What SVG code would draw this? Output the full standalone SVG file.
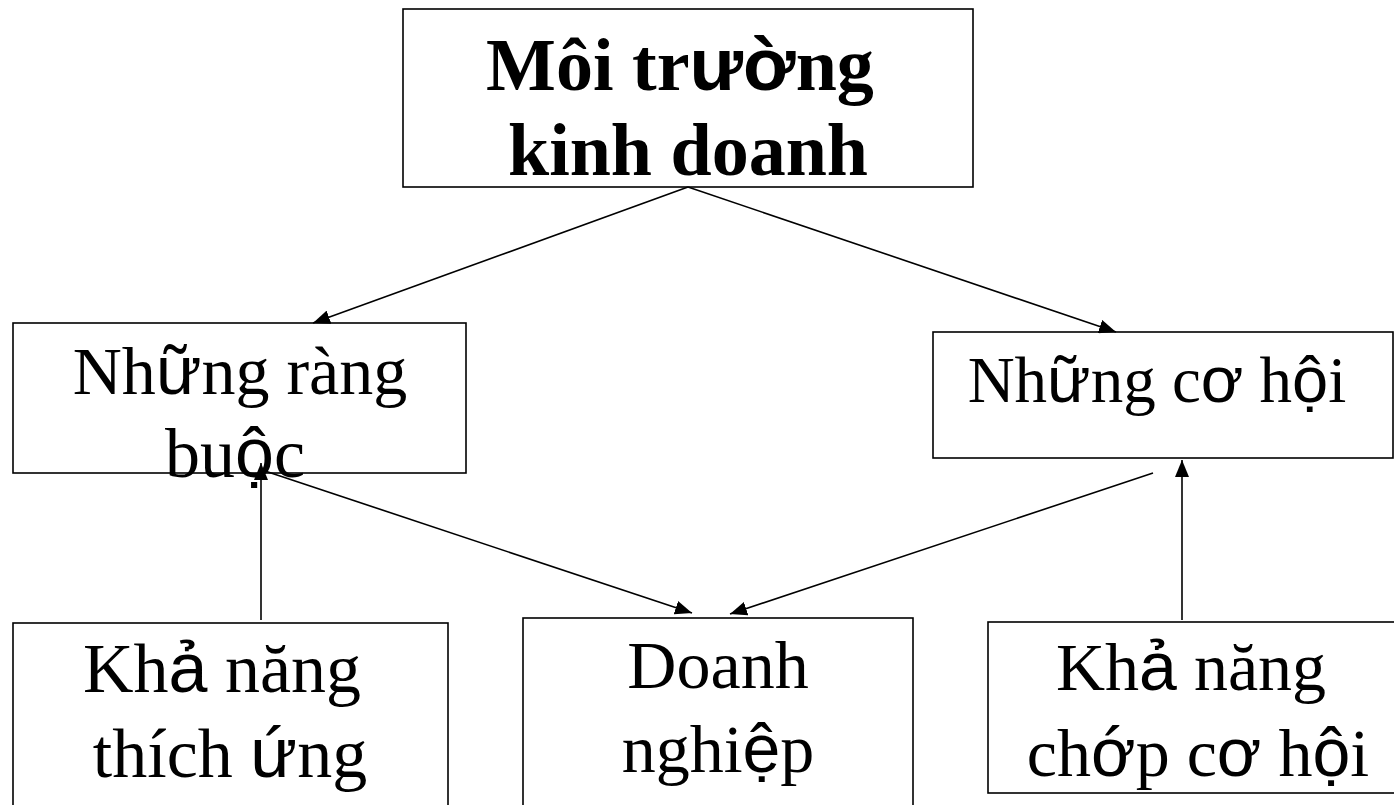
<svg xmlns="http://www.w3.org/2000/svg" width="1394" height="805" viewBox="0 0 1394 805">
<defs>
<marker id="ah" markerUnits="userSpaceOnUse" markerWidth="18" markerHeight="14" refX="17" refY="7" orient="auto">
<path d="M0,0 L17,7 L0,14 Z" fill="#000"/>
</marker>
<style>
.box{fill:#fff;stroke:#000;stroke-width:1.6}
.t{font-family:"Liberation Serif","Times New Roman",serif;font-size:68px;fill:#000;text-anchor:middle}
.b{font-weight:bold;font-size:74px}
.m{font-size:65px}
.s{font-family:"Liberation Sans",Arial,sans-serif}
.edge{stroke:#000;stroke-width:1.6;fill:none;marker-end:url(#ah)}
</style>
</defs>
<rect width="1394" height="805" fill="#fff"/>
<g id="n-top">
<rect class="box" x="403" y="9" width="570" height="178"/>
<text class="t b" x="680" y="90">Môi tr<tspan class="s">ườ</tspan>ng</text>
<text class="t b" x="688" y="175">kinh doanh</text>
</g>
<g id="n-constraints">
<rect class="box" x="13" y="323" width="453" height="150"/>
<text class="t" x="240" y="394">Nh<tspan class="s">ữ</tspan>ng ràng</text>
<text class="t" x="235" y="477" style="font-size:70px">bu<tspan class="s">ộ</tspan>c</text>
</g>
<g id="n-opportunities">
<rect class="box" x="933" y="332" width="460" height="126"/>
<text class="t m" x="1157" y="402">Nh<tspan class="s">ữ</tspan>ng c<tspan class="s">ơ</tspan> h<tspan class="s">ộ</tspan>i</text>
</g>
<g id="n-adapt">
<rect class="box" x="13" y="623" width="435" height="200"/>
<text class="t" x="222" y="692" style="font-size:70px">Kh<tspan class="s">ả</tspan> năng</text>
<text class="t" x="230" y="777" style="font-size:70px">thích <tspan class="s">ứ</tspan>ng</text>
</g>
<g id="n-enterprise">
<rect class="box" x="523" y="618" width="390" height="205"/>
<text class="t" x="718" y="688">Doanh</text>
<text class="t" x="718" y="772">nghi<tspan class="s">ệ</tspan>p</text>
</g>
<g id="n-seize">
<rect class="box" x="988" y="622" width="420" height="171"/>
<text class="t" x="1191" y="690">Kh<tspan class="s">ả</tspan> năng</text>
<text class="t" x="1198" y="776">ch<tspan class="s">ớ</tspan>p c<tspan class="s">ơ</tspan> h<tspan class="s">ộ</tspan>i</text>
</g>
<g id="connectors">
<line class="edge" x1="688" y1="187" x2="313" y2="323"/>
<line class="edge" x1="688" y1="187" x2="1116" y2="332"/>
<line class="edge" x1="265" y1="471" x2="692" y2="613"/>
<line class="edge" x1="1153" y1="473" x2="730" y2="614"/>
<line class="edge" x1="261" y1="620" x2="261" y2="463"/>
<line class="edge" x1="1182" y1="620" x2="1182" y2="460"/>
</g>
</svg>
